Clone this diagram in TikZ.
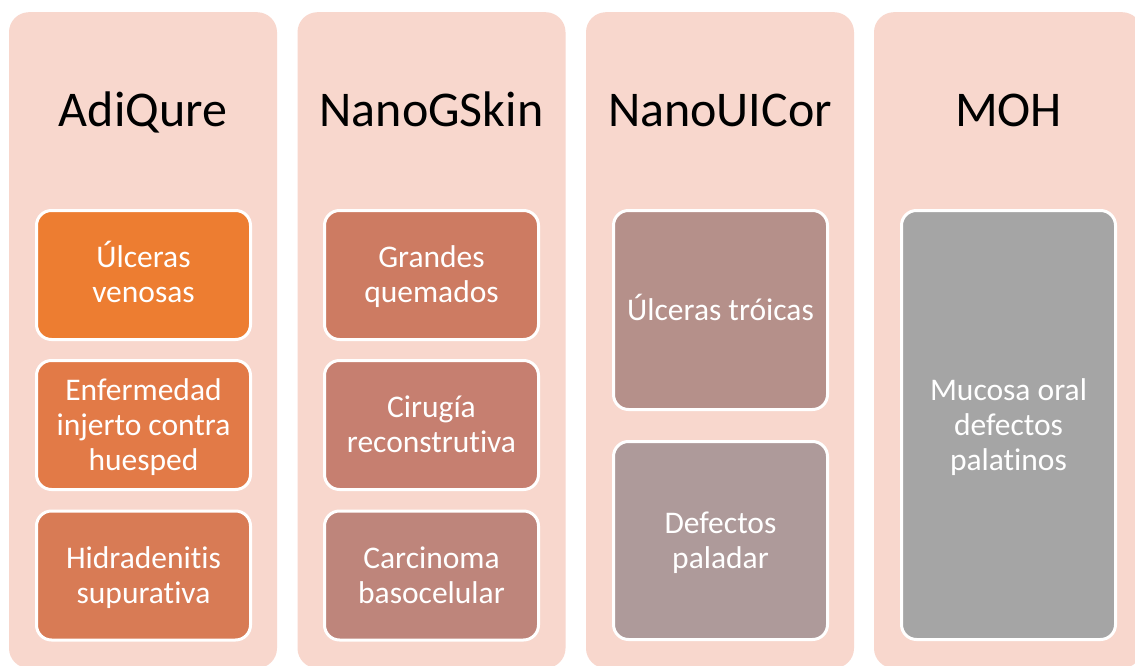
\documentclass[tikz,border=0pt]{standalone}
\usepackage{fontspec}
\setmainfont{Carlito}[Ligatures=NoCommon]
\definecolor{bgpink}{HTML}{F8D7CD}
\definecolor{cA}{HTML}{ED7D31}
\definecolor{cB}{HTML}{E27A47}
\definecolor{cC}{HTML}{D87B55}
\definecolor{cD}{HTML}{CD7B62}
\definecolor{cE}{HTML}{C67F70}
\definecolor{cF}{HTML}{BE857B}
\definecolor{cG}{HTML}{B5908A}
\definecolor{cH}{HTML}{AE9A9A}
\definecolor{cI}{HTML}{A5A5A5}
\newcommand{\tst}{\rule{0pt}{27.5pt}}
\newcommand{\bst}{\rule[-7.5pt]{0pt}{7.5pt}}
\begin{document}
\begin{tikzpicture}[x=1pt,y=-1pt,
  colbox/.style={fill=bgpink, draw=none, rounded corners=20pt, minimum width=268pt, minimum height=656pt, inner sep=0pt, anchor=north},
  title/.style={font=\fontsize{50}{56}\selectfont, text=black, inner sep=0pt, anchor=base},
  item/.style={draw=white, line width=3pt, rounded corners=15pt, minimum width=214pt, inner sep=0pt, align=center, text=white, font=\fontsize{31.5}{35}\selectfont}]
\useasboundingbox (0,0) rectangle (1135,666);
\clip (0,0) rectangle (1135,666);
\fill[white] (0,0) rectangle (1135,666);
% columns
\node[colbox] (c1) at (143,12) {};
\node[colbox] (c2) at (431.5,12) {};
\node[colbox] (c3) at (720,12) {};
\node[colbox] (c4) at (1008,12) {};
% titles
\node[title] (t1) at (143,127) {AdiQure};
\node[title] (t2) at (431.5,127) {NanoGSkin};
\node[title] (t3) at (720,127) {NanoUICor};
\node[title] (t4) at (1008.5,127) {MOH};
% column 1
\node[item, fill=cA, minimum height=129pt] (a1) at (143.5,275) {\tst Úlceras\\venosas\bst};
\node[item, fill=cB, minimum height=129pt] (a2) at (143.5,425) {\tst Enfermedad\\injerto contra\\huesped\bst};
\node[item, fill=cC, minimum height=129pt] (a3) at (143.5,575.5) {\tst Hidradenitis\\supurativa\bst};
% column 2
\node[item, fill=cD, minimum height=129pt] (b1) at (431.5,275) {\tst Grandes\\quemados\bst};
\node[item, fill=cE, minimum height=129pt] (b2) at (431.5,425) {\tst Cirugía\\reconstrutiva\bst};
\node[item, fill=cF, minimum height=129pt] (b3) at (431.5,575.5) {\tst Carcinoma\\basocelular\bst};
% column 3
\node[item, fill=cG, minimum height=199pt] (d1) at (720.5,310) {\tst Úlceras tróicas\bst};
\node[item, fill=cH, minimum height=198pt] (d2) at (720.5,540.5) {\tst Defectos\\paladar\bst};
% column 4
\node[item, fill=cI, minimum height=429pt] (e1) at (1008.5,425) {\tst Mucosa oral\\defectos\\palatinos\bst};
\end{tikzpicture}
\end{document}
